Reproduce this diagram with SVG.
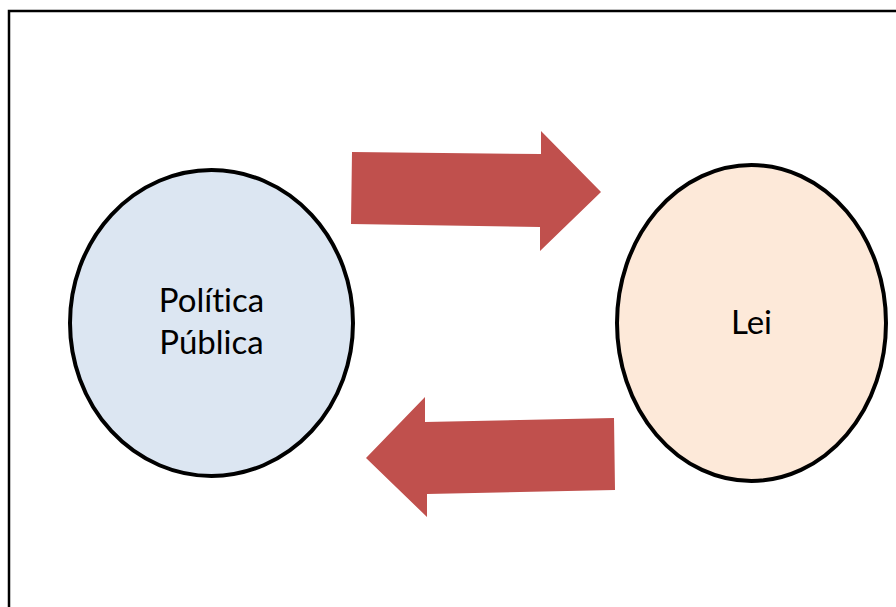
<svg xmlns="http://www.w3.org/2000/svg" width="896" height="607" viewBox="0 0 896 607">
  <style>
    .frame { fill: none; stroke: #000; stroke-width: 2.5; }
    .node { stroke: #000; stroke-width: 4; }
    .label { font-family: Lato, "Open Sans", "Liberation Sans", sans-serif; font-size: 33px; fill: #000; text-anchor: middle; font-variant-ligatures: none; }
    .arrow { fill: #C0504D; }
  </style>
  <rect class="frame" x="9" y="11" width="900" height="610"/>
  <g id="politica-publica">
    <ellipse class="node" cx="211.5" cy="323" rx="141.5" ry="153" fill="#DCE6F2"/>
    <text class="label" x="211.5" y="312">Política</text>
    <text class="label" x="211.5" y="354">Pública</text>
  </g>
  <g id="lei">
    <ellipse class="node" cx="751.5" cy="323" rx="134.5" ry="158" fill="#FDE9D9"/>
    <text class="label" x="751.5" y="334">Lei</text>
  </g>
  <g id="connectors">
    <polygon class="arrow" points="352,152 541,154 541,131 601,192 540,251 540,227 351,224"/>
    <polygon class="arrow" points="614,418 615,490 427,494 427,517 366,458 425,397 425,422"/>
  </g>
</svg>
